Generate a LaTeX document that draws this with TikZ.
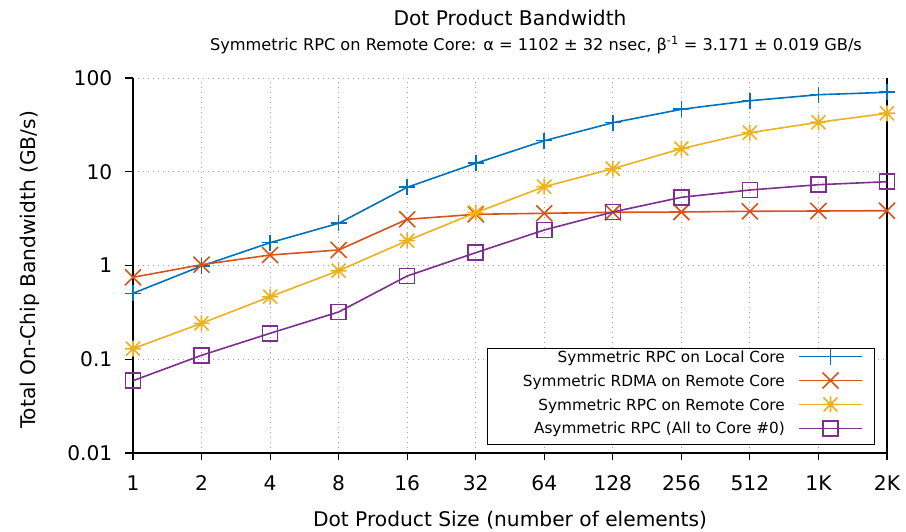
\documentclass[tikz,border=0pt]{standalone}
\usepackage{fontspec}
\setmainfont{DejaVu Sans}
\definecolor{cblue}{RGB}{0,114,189}
\definecolor{corange}{RGB}{217,83,25}
\definecolor{cyellow}{RGB}{237,177,32}
\definecolor{cpurple}{RGB}{126,47,142}
\definecolor{cgrid}{RGB}{160,160,160}
\begin{document}
\begin{tikzpicture}[x=1pt,y=-1pt]
\tikzset{
  gridline/.style={cgrid, line width=0.9pt, dash pattern=on 1.1pt off 3.9pt},
  frameline/.style={black, line width=1.1pt},
  big/.style={font=\fontsize{20.2}{24}\selectfont, inner sep=0pt},
  small/.style={font=\fontsize{15.3}{18}\selectfont, inner sep=0pt},
  sub/.style={font=\fontsize{16.2}{19}\selectfont, inner sep=0pt},
  sblue/.style={color=cblue, line width=1.6pt},
  sorange/.style={color=corange, line width=1.6pt},
  syellow/.style={color=cyellow, line width=1.6pt},
  spurple/.style={color=cpurple, line width=1.6pt},
  mplus/.pic={\draw (-8,0)--(8,0) (0,-8)--(0,8);},
  mcross/.pic={\draw (-8,-8)--(8,8) (-8,8)--(8,-8);},
  mstar/.pic={\draw (-8,0)--(8,0) (0,-8)--(0,8) (-7,-7)--(7,7) (-7,7)--(7,-7);},
  msquare/.pic={\draw (-7.5,-7.5) rectangle (7.5,7.5);},
}
\useasboundingbox (0,0) rectangle (906,532);
\fill[white] (0,0) rectangle (906,532);

% grid
\foreach \i in {2,...,11}{
  \pgfmathsetmacro\xx{133+(\i-1)*68.5455}
  \draw[gridline] (\xx,453) -- (\xx,78);
}
\foreach \yy in {78,171.75,265.5,359.25}{
  \draw[gridline] (133,\yy) -- (887,\yy);
}

% frame and ticks
\coordinate (tl) at (133,78);
\coordinate (bl) at (133,453);
\coordinate (br) at (887,453);
\coordinate (tr) at (887,78);
\draw[frameline] (tl) -- (bl) -- (br) -- (tr);
\foreach \yy/\lab in {78/100,171.75/10,265.5/1,359.25/0.1,453/0.01}{
  \draw[frameline] (125,\yy) -- (133,\yy);
  \node[big, anchor=east] (yl\lab) at (112.5,\yy) {\lab};
}
\foreach \lab [count=\i] in {1,2,4,8,16,32,64,128,256,512,1K,2K}{
  \pgfmathsetmacro\xx{133+(\i-1)*68.5455}
  \draw[frameline] (\xx,453) -- (\xx,460);
  \node[big] (xl\i) at (\xx,483.5) {\lab};
}

% titles
\node[big, anchor=base] (title) at (510,26) {Dot Product Bandwidth};
\node[sub, anchor=base] (subtitle) at (536,50.5) {Symmetric RPC on Remote Core: α = 1102 ± 32 nsec, β\textsuperscript{-1} = 3.171 ± 0.019 GB/s};
\node[big, anchor=base] (xlabel) at (510,526.5) {Dot Product Size (number of elements)};
\node[big, anchor=base, rotate=90] (ylabel) at (35,270) {Total On-Chip Bandwidth (GB/s)};

% data coordinates
\foreach \yy [count=\i] in {293.3,266,242.7,223.3,187.3,163.3,140.7,122.7,109.3,100.7,94.7,92.3}{
  \pgfmathsetmacro\xx{133+(\i-1)*68.5455}
  \coordinate (b\i) at (\xx,\yy);}
\foreach \yy [count=\i] in {277.3,264.7,255,250,219.3,214.3,213.3,212.3,212,211.3,211,210.7}{
  \pgfmathsetmacro\xx{133+(\i-1)*68.5455}
  \coordinate (o\i) at (\xx,\yy);}
\foreach \yy [count=\i] in {348.7,323.3,296.7,270.7,240.7,212.7,186.7,168.7,148.7,132.7,122.3,113.3}{
  \pgfmathsetmacro\xx{133+(\i-1)*68.5455}
  \coordinate (y\i) at (\xx,\yy);}
\foreach \yy [count=\i] in {380.7,355.3,333.3,312,276,252.7,230,212,197.3,190,184.7,181.7}{
  \pgfmathsetmacro\xx{133+(\i-1)*68.5455}
  \coordinate (p\i) at (\xx,\yy);}

% series
\draw[sblue] (b1) \foreach \i in {2,...,12}{ -- (b\i)};
\foreach \i in {1,...,12}{ \pic[sblue] at (b\i) {mplus}; }
\draw[sorange] (o1) \foreach \i in {2,...,12}{ -- (o\i)};
\foreach \i in {1,...,12}{ \pic[sorange] at (o\i) {mcross}; }
\draw[syellow] (y1) \foreach \i in {2,...,12}{ -- (y\i)};
\foreach \i in {1,...,12}{ \pic[syellow] at (y\i) {mstar}; }
\draw[spurple] (p1) \foreach \i in {2,...,12}{ -- (p\i)};
\foreach \i in {1,...,12}{ \pic[spurple] at (p\i) {msquare}; }

% legend
\node[draw=black, line width=1.1pt, fill=white, minimum width=387.6pt, minimum height=95.7pt, anchor=north west, inner sep=0pt] (legend) at (486.7,348.3) {};
\foreach \txt/\st/\mk [count=\k] in {Symmetric RPC on Local Core/sblue/mplus,
  Symmetric RDMA on Remote Core/sorange/mcross,
  Symmetric RPC on Remote Core/syellow/mstar,
  Asymmetric RPC (All to Core \#0)/spurple/msquare}{
  \pgfmathsetmacro\ry{356.6+(\k-1)*23.9}
  \node[small, anchor=base east] (lt\k) at (785,\ry+5.6) {\txt};
  \coordinate (ls\k) at (799.3,\ry);
  \coordinate (le\k) at (861.7,\ry);
  \draw[\st] (ls\k) -- (le\k);
  \pic[\st] at (830.5,\ry) {\mk};
}
\end{tikzpicture}
\end{document}
